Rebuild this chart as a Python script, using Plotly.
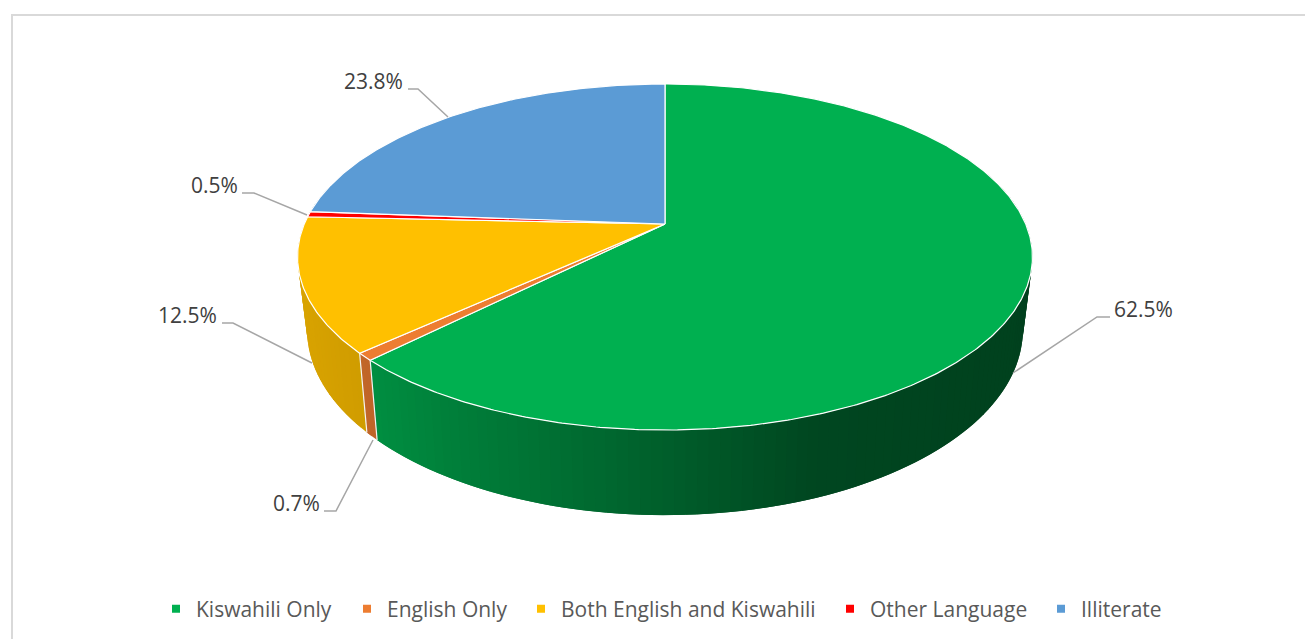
import math
import numpy as np
import plotly.graph_objects as go

# ---- data ----
categories = ["Kiswahili Only", "English Only", "Both English and Kiswahili", "Other Language", "Illiterate"]
shares = [62.5, 0.7, 12.5, 0.5, 23.8]
colors = ["#00B050", "#ED7D31", "#FFC000", "#FF0000", "#5B9BD5"]

# ---- projection of the tilted disc (perspective) ----
CX = 665.0
TOP = dict(q=360.7, k=0.1908, y0=224.0, p=-124.0)
BOT = dict(q=351.0, k=0.195, y0=294.0, p=-120.7)


def project(deg, g):
    t = np.radians(deg)
    u, v = np.sin(t), np.cos(t)
    w = 1 + g["k"] * v
    return CX + g["q"] * u / w, (g["y0"] + g["p"] * v) / w


def shade(hex_color, x):
    f = np.interp(x, [300, 375, 460, 600, 820, 1030], [.85, .81, .72, .60, .40, .37])
    r, g, b = [int(hex_color[i:i + 2], 16) for i in (1, 3, 5)]
    return f"rgb({r * f:.0f},{g * f:.0f},{b * f:.0f})"


fig = go.Figure()
total = sum(shares)
edges = np.cumsum([0] + shares) / total * 360

# side wall: overlapping strips, so no seams show through
for i, c in enumerate(colors):
    a0, a1 = max(edges[i], 70), min(edges[i + 1], 285)
    if a1 <= a0:
        continue
    n = max(2, math.ceil((a1 - a0) / 1.5))
    ts = np.linspace(a0, a1, n + 1)
    step = ts[1] - ts[0]
    for s0 in ts[:-1]:
        s1 = min(s0 + 2 * step, a1)
        x0, y0 = project(s0, TOP)
        x1, y1 = project(s1, TOP)
        x2, y2 = project(s1, BOT)
        x3, y3 = project(s0, BOT)
        col = shade(c, (x0 + x3) / 2)
        fig.add_trace(go.Scatter(x=[x0, x1, x2, x3, x0], y=[y0, y1, y2, y3, y0], mode="lines",
                                 fill="toself", fillcolor=col, line=dict(color=col, width=0),
                                 showlegend=False, hoverinfo="skip"))

# white seams on the wall between visible slices
for e in edges[1:-1]:
    if 95 < e < 272:
        x0, y0 = project(e, TOP)
        x1, y1 = project(e, BOT)
        fig.add_trace(go.Scatter(x=[x0, x1], y=[y0, y1], mode="lines",
                                 line=dict(color="#f4f4f4", width=1.2),
                                 showlegend=False, hoverinfo="skip"))

# top face
for i, c in enumerate(colors):
    ts = np.linspace(edges[i], edges[i + 1], max(3, int((edges[i + 1] - edges[i]) * 2)))
    xs, ys = project(ts, TOP)
    xs = [CX, *xs, CX]
    ys = [TOP["y0"], *ys, TOP["y0"]]
    fig.add_trace(go.Scatter(x=xs, y=ys, mode="lines", fill="toself", fillcolor=c,
                             line=dict(color="#ffffff", width=1.2),
                             showlegend=False, hoverinfo="skip"))

# leader lines, one per slice, and their labels
leaders = [
    ([1013, 1097, 1110], [373, 317, 317], 1112, 309, "left"),
    ([373, 336, 324], [440, 511, 511], 322, 503, "right"),
    ([312, 233, 222], [363, 323, 323], 219, 315, "right"),
    ([307, 254, 242], [215, 193, 193], 240, 185, "right"),
    ([448, 418, 408], [117, 89, 89], 405, 81, "right"),
]
annotations = []
for v, (lx, ly, tx, ty, anchor) in zip(shares, leaders):
    fig.add_trace(go.Scatter(x=lx, y=ly, mode="lines", line=dict(color="#A6A6A6", width=1.5),
                             showlegend=False, hoverinfo="skip"))
    annotations.append(dict(x=tx, y=ty, xref="x", yref="y", text=f"{v}%", showarrow=False,
                            xanchor=anchor, yanchor="middle",
                            font=dict(family="Open Sans", size=21, color="#404040")))

# legend entries: each sits in its own native legend so the spacing can follow the reference
legend_text_left = [196, 387, 561, 870, 1081]
legend_layout = {}
for j, (name, c, left) in enumerate(zip(categories, colors, legend_text_left)):
    key = "legend" if j == 0 else f"legend{j + 1}"
    fig.add_trace(go.Scatter(x=[None], y=[None], mode="markers", name=name, legend=key,
                             marker=dict(symbol="square", size=8, color=c)))
    legend_layout[key] = dict(orientation="h", x=(left - 40) / 1305, xanchor="left",
                              y=1 - 609 / 639, yanchor="middle", bgcolor="rgba(0,0,0,0)",
                              font=dict(family="Open Sans", size=21, color="#595959"))

fig.update_layout(
    width=1305, height=639, margin=dict(l=0, r=0, t=0, b=0),
    paper_bgcolor="#ffffff", plot_bgcolor="#ffffff",
    xaxis=dict(range=[0, 1305], visible=False, fixedrange=True),
    yaxis=dict(range=[639, 0], visible=False, fixedrange=True),
    annotations=annotations,
    showlegend=True,
    shapes=[
        dict(type="line", xref="x", yref="y", x0=12, x1=12, y0=14, y1=639, line=dict(color="#D9D9D9", width=2)),
        dict(type="line", xref="x", yref="y", x0=11, x1=1305, y0=15, y1=15, line=dict(color="#D9D9D9", width=2)),
    ],
    **legend_layout,
)
fig.write_html("out.html", post_script="document.body.style.margin='0';", config=dict(displayModeBar=False))
